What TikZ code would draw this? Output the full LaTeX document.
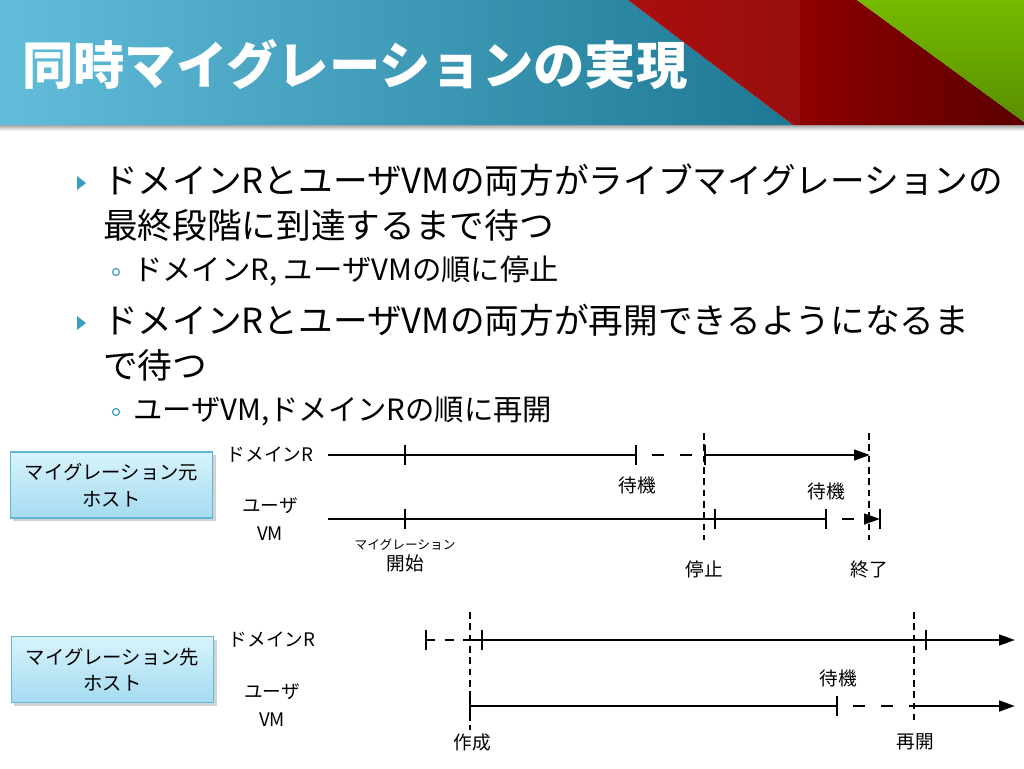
\documentclass[tikz,border=0pt]{standalone}
\usepackage{fontspec}
\setmainfont{Noto Sans CJK JP}
\usetikzlibrary{arrows.meta,positioning,shadows}

\definecolor{barblue}{HTML}{62BDDB}
\definecolor{bardeep}{HTML}{1D7894}
\definecolor{barred}{HTML}{AA0E0E}
\definecolor{barredb}{HTML}{970F0F}
\definecolor{bardark}{HTML}{8E0000}
\definecolor{bardarkb}{HTML}{5A0000}
\definecolor{bargreen}{HTML}{75BB00}
\definecolor{bargreenb}{HTML}{5A8E00}
\definecolor{bullet}{HTML}{3A9EBE}
\definecolor{hosttop}{HTML}{D8F3FC}
\definecolor{hostbot}{HTML}{A4DBF0}
\definecolor{hostline}{HTML}{62B8D4}

% short vertical mark on a time line
\newcommand{\tickat}[1]{\draw[tl] ([yshift=-7.5pt]#1) -- ([yshift=7.5pt]#1);}

\begin{document}
\begin{tikzpicture}[x=0.75pt, y=-0.75pt,
  tl/.style={line width=2pt},
  tldash/.style={line width=2pt, dash pattern=on 9pt off 12pt, dash phase=9pt},
  sep/.style={line width=1.5pt, dash pattern=on 5pt off 3.5pt},
  tip/.style={-{Triangle[length=12pt,width=8pt]}},
  lbl/.style={font=\fontsize{14}{21}\selectfont, align=center},
  body/.style={anchor=west, inner sep=0pt, font=\fontsize{26}{30}\selectfont},
  sub/.style={anchor=west, inner sep=0pt, font=\fontsize{22}{26}\selectfont},
  hostbox/.style={draw=hostline, line width=0.8pt, top color=hosttop, bottom color=hostbot,
    minimum width=152pt, minimum height=49.5pt, align=center, font=\fontsize{14.5}{20}\selectfont,
    drop shadow={shadow xshift=2pt, shadow yshift=-2.5pt, opacity=0.35}}]

\fill[white] (0,0) rectangle (1024,768);
\useasboundingbox (0,0) rectangle (1024,768);

% title bar
\shade[top color=black!35, bottom color=white] (0,125) rectangle (1024,131);
\shade[left color=barblue, right color=bardeep] (0,0) -- (628,0) -- (793,125) -- (0,125) -- cycle;
\shade[left color=barred, right color=barredb] (628,0) -- (800,0) -- (800,125) -- (793,125) -- cycle;
\shade[left color=bardark, right color=bardarkb] (800,0) -- (857,0) -- (1024,122) -- (1024,125) -- (800,125) -- cycle;
\shade[top color=bargreen, bottom color=bargreenb] (857,0) -- (1024,0) -- (1024,122) -- cycle;
\node[anchor=west, inner sep=0pt, text=white, font=\fontsize{38.5}{40}\bfseries\selectfont] (title) at (22,65) {同時マイグレーションの実現};

% bullets
\fill[bullet] (77,176) -- (86,183) -- (77,190) -- cycle;
\fill[bullet] (77,316) -- (86,323) -- (77,330) -- cycle;
\draw[bullet, line width=0.9pt] (116,272) circle (2.6pt);
\draw[bullet, line width=0.9pt] (116,412) circle (2.6pt);
\node[body] (b1a) at (103,180) {ドメインRとユーザVMの両方がライブマイグレーションの};
\node[body] (b1b) at (103,225) {最終段階に到達するまで待つ};
\node[sub] (s1) at (133,271) {ドメインR, ユーザVMの順に停止};
\node[body] (b2a) at (103,320) {ドメインRとユーザVMの両方が再開できるようになるま};
\node[body] (b2b) at (103,365) {で待つ};
\node[sub] (s2) at (133,411) {ユーザVM,ドメインRの順に再開};

% hosts and rows
\node[hostbox] (srchost) at (111.5,485) {マイグレーション元\\ホスト};
\node[hostbox] (dsthost) at (112.5,669.5) {マイグレーション先\\ホスト};
\node[lbl] (srcdom) at (270,455) {ドメインR};
\node[lbl] (srcvm) at (270,519) {ユーザ\\VM};
\node[lbl] (dstdom) at (272,640) {ドメインR};
\node[lbl] (dstvm) at (272,705) {ユーザ\\VM};

% source time points
\coordinate (s1start) at (328,455);
\coordinate (s1mig) at (405,455);
\coordinate (s1wait) at (636,455);
\coordinate (s1stop) at (705,455);
\coordinate (s1end) at (870,455);
\coordinate (s2start) at (328,519);
\coordinate (s2mig) at (405,519);
\coordinate (s2stop) at (715,519);
\coordinate (s2wait) at (826,519);
\coordinate (s2end) at (880,519);
\coordinate (stopT) at (704,433);
\coordinate (stopB) at (704,540);
\coordinate (endT) at (869,433);
\coordinate (endB) at (869,540);

% destination time points
\coordinate (d1pre) at (426,640);
\coordinate (d1cross) at (470,640);
\coordinate (d1start) at (482,640);
\coordinate (d1resume) at (926,640);
\coordinate (d1end) at (1015,640);
\coordinate (d2start) at (470,706);
\coordinate (d2wait) at (837,706);
\coordinate (d2resume) at (914,706);
\coordinate (d2end) at (1015,706);
\coordinate (createT) at (470,612);
\coordinate (createB) at (470,730);
\coordinate (resumeT) at (914,612);
\coordinate (resumeB) at (914,720);

\draw[sep] (stopT) -- (stopB);
\draw[sep] (endT) -- (endB);
\draw[sep] (createT) -- (createB);
\draw[sep] (resumeT) -- (resumeB);

\draw[tl] (s1start) -- (s1wait);
\draw[tldash] (s1wait) -- (s1stop);
\draw[tl, tip] (s1stop) -- (s1end);
\tickat{s1mig} \tickat{s1wait} \tickat{s1stop}

\draw[tl] (s2start) -- (s2stop) -- (s2wait);
\draw[tldash, tip] (s2wait) -- (s2end);
\tickat{s2mig} \tickat{s2stop} \tickat{s2wait} \tickat{s2end}

\draw[tl, dash pattern=on 7pt off 7pt] (d1pre) -- (d1cross);
\draw[tl, tip] (d1cross) -- (d1end);
\tickat{d1pre} \tickat{d1start} \tickat{d1resume}

\draw[tl] (d2start) -- (d2wait);
\draw[tldash] (d2wait) -- (d2resume);
\draw[tl, tip] (d2resume) -- (d2end);
\tickat{d2start} \tickat{d2wait}

% labels
\node[lbl] (wait1) at (637,485) {待機};
\node[lbl] (wait2) at (826,491) {待機};
\node[font=\fontsize{9.5}{10}\selectfont] (migsmall) at (405,545) {マイグレーション};
\node[lbl, below=-4pt of migsmall] (startlbl) {開始};
\node[lbl] (stoplbl) at (704,569) {停止};
\node[lbl] (endlbl) at (869,569) {終了};
\node[lbl] (wait3) at (838,678) {待機};
\node[lbl] (createlbl) at (472,742) {作成};
\node[lbl] (resumelbl) at (915,742) {再開};
\end{tikzpicture}
\end{document}
